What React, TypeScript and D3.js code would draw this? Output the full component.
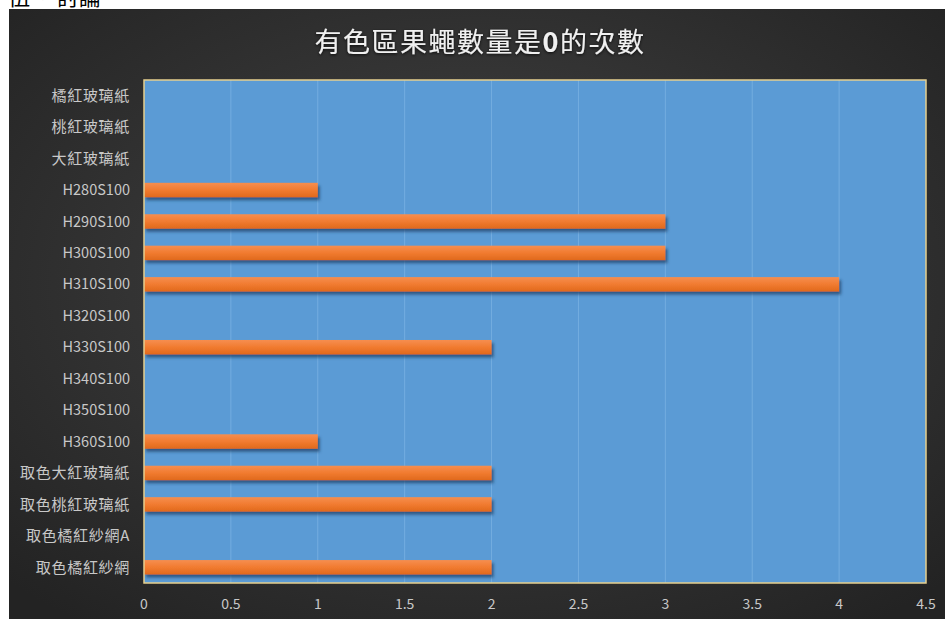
import React from "react";
import * as d3 from "d3";

const categories = [
  "橘紅玻璃紙",
  "桃紅玻璃紙",
  "大紅玻璃紙",
  "H280S100",
  "H290S100",
  "H300S100",
  "H310S100",
  "H320S100",
  "H330S100",
  "H340S100",
  "H350S100",
  "H360S100",
  "取色大紅玻璃紙",
  "取色桃紅玻璃紙",
  "取色橘紅紗網A",
  "取色橘紅紗網",
];
const values = [0, 0, 0, 1, 3, 3, 4, 0, 2, 0, 0, 1, 2, 2, 0, 2];
const xTicks = [0, 0.5, 1, 1.5, 2, 2.5, 3, 3.5, 4, 4.5];
const titleA = "有色區果蠅數量是";
const titleB = "0";
const titleC = "的次數";

const W = 945;
const H = 619;
const plot = { left: 144, right: 926, top: 80, bottom: 583 };
const FONT = "'Noto Sans CJK TC', 'Open Sans', sans-serif";

const isCJK = (s: string) => /[\u4e00-\u9fff]/.test(s);

export default function App() {
  const x = d3.scaleLinear().domain([0, 4.5]).range([plot.left, plot.right]);
  const y = d3
    .scaleBand<string>()
    .domain(categories)
    .range([plot.top, plot.bottom])
    .paddingInner(0.54)
    .paddingOuter(0.27);
  const step = (plot.bottom - plot.top) / categories.length;

  return (
    <svg
      width={W}
      height={H}
      style={{ position: "absolute", left: 0, top: 0, background: "#fff" }}
    >
      <defs>
        <radialGradient id="bg" cx="50%" cy="45%" r="70%">
          <stop offset="0%" stopColor="#454545" />
          <stop offset="100%" stopColor="#232323" />
        </radialGradient>
        <linearGradient id="bar" x1="0" y1="0" x2="0" y2="1">
          <stop offset="0%" stopColor="#f68e4f" />
          <stop offset="50%" stopColor="#f17b30" />
          <stop offset="100%" stopColor="#e0691c" />
        </linearGradient>
        <filter id="shadow" x="-5%" y="-30%" width="115%" height="190%">
          <feDropShadow dx="2" dy="3" stdDeviation="1.5" floodColor="#1d3a60" floodOpacity="0.7" />
        </filter>
        <filter id="glow" x="-10%" y="-30%" width="120%" height="160%">
          <feDropShadow dx="0" dy="1" stdDeviation="1.5" floodColor="#000" floodOpacity="0.8" />
        </filter>
      </defs>

      <text x={8} y={5} fontFamily={FONT} fontSize={22} fill="#000">
        伍、 討論
      </text>

      <rect x={9} y={9} width={W - 9} height={H - 9} fill="url(#bg)" />

      <text
        x={480}
        y={52}
        textAnchor="middle"
        fontFamily={FONT}
        fontSize={27}
        letterSpacing={1.5}
        fill="#f0f0f0"
        filter="url(#glow)"
      >
        {titleA}
        <tspan fontWeight="bold">{titleB}</tspan>
        {titleC}
      </text>

      <rect
        x={plot.left}
        y={plot.top}
        width={plot.right - plot.left}
        height={plot.bottom - plot.top}
        fill="#5b9bd5"
      />
      {xTicks.slice(1, -1).map((t) => (
        <line
          key={"g" + t}
          x1={x(t)}
          x2={x(t)}
          y1={plot.top}
          y2={plot.bottom}
          stroke="#74aee0"
          strokeWidth={1}
        />
      ))}

      {categories.map((c, i) => {
        const v = values[i];
        if (!v) return null;
        return (
          <rect
            key={c}
            x={x(0)}
            y={y(c)}
            width={x(v) - x(0)}
            height={y.bandwidth()}
            fill="url(#bar)"
            filter="url(#shadow)"
          />
        );
      })}

      <rect
        x={plot.left}
        y={plot.top}
        width={plot.right - plot.left}
        height={plot.bottom - plot.top}
        fill="none"
        stroke="#e6d08e"
        strokeWidth={1.5}
      />

      {categories.map((c, i) => (
        <text
          key={"l" + c}
          x={130}
          y={plot.top + step * (i + 0.5)}
          dy="0.35em"
          textAnchor="end"
          fontFamily={FONT}
          fontSize={isCJK(c) ? 15 : 14.5}
          letterSpacing={isCJK(c) ? 0.7 : 0}
          fill="#c8c8c8"
        >
          {c}
        </text>
      ))}

      {xTicks.map((t) => (
        <text
          key={"x" + t}
          x={x(t)}
          y={604}
          dy="0.35em"
          textAnchor="middle"
          fontFamily={FONT}
          fontSize={14}
          fill="#c8c8c8"
        >
          {t}
        </text>
      ))}
    </svg>
  );
}
